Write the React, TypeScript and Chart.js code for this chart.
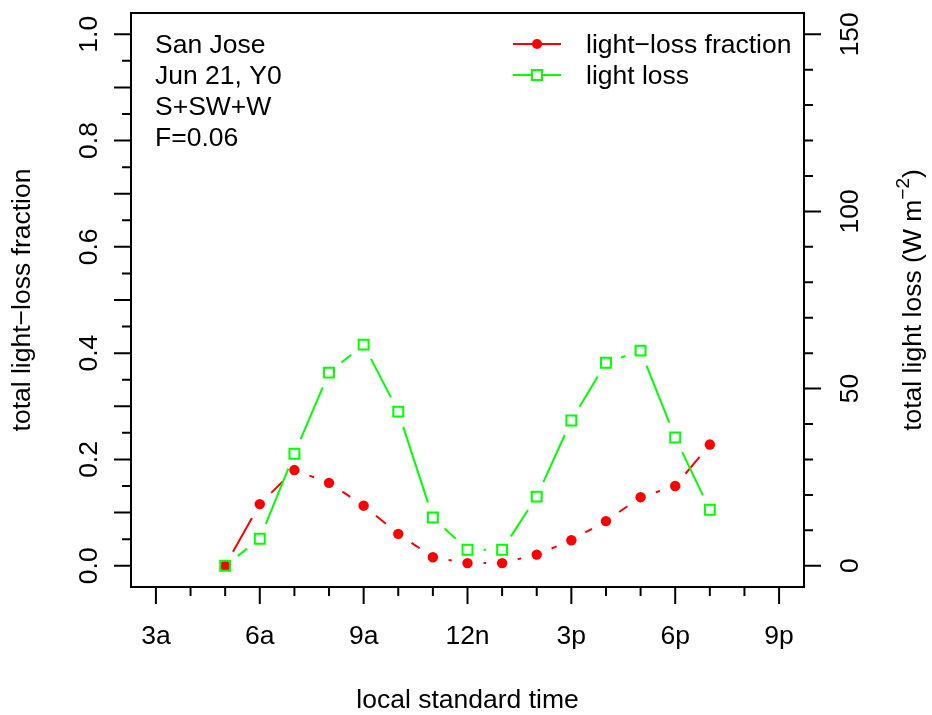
import React, { useEffect, useRef } from 'react';
import { Chart, registerables } from 'chart.js';

Chart.register(...registerables);

// ---- data ----
const hours = [5, 6, 7, 8, 9, 10, 11, 12, 13, 14, 15, 16, 17, 18, 19];
const lossFraction = [0.0, 0.116, 0.18, 0.156, 0.113, 0.06, 0.016, 0.005, 0.005, 0.021, 0.048, 0.084, 0.129, 0.15, 0.228];
const lightLoss = [0.0, 7.6, 31.6, 54.5, 62.4, 43.5, 13.6, 4.5, 4.5, 19.5, 41.0, 57.3, 60.7, 36.2, 15.8];

const xTickValues = [3, 6, 9, 12, 15, 18, 21];
const xTickLabels = ['3a', '6a', '9a', '12n', '3p', '6p', '9p'];
const yLeftTickValues = [0, 0.2, 0.4, 0.6, 0.8, 1.0];
const yLeftTickLabels = ['0.0', '0.2', '0.4', '0.6', '0.8', '1.0'];
const yRightTickValues = [0, 50, 100, 150];
const yRightTickLabels = ['0', '50', '100', '150'];

const annotationLines = ['San Jose', 'Jun 21, Y0', 'S+SW+W', 'F=0.06'];
const seriesLabels = ['light\u2212loss fraction', 'light loss'];
const xTitle = 'local standard time';
const yLeftTitle = 'total light\u2212loss fraction';
const yRightTitle = 'total light loss (W m';
const yRightTitleSup = '\u22122';

const RED = '#ff0000';
const GREEN = '#00ff00';
const FONT = '"Liberation Sans", Arial, Helvetica, sans-serif';
const FS = 26.5;
const GAP = 16;

const gapLinesPlugin = {
  id: 'gapLines',
  beforeDatasetsDraw(chart: any) {
    const ctx = chart.ctx;
    chart.data.datasets.forEach((ds: any, i: number) => {
      const pts = chart.getDatasetMeta(i).data;
      ctx.save();
      ctx.strokeStyle = ds.borderColor;
      ctx.lineWidth = 2;
      ctx.lineCap = 'butt';
      ctx.beginPath();
      for (let k = 0; k < pts.length - 1; k++) {
        const a = pts[k];
        const b = pts[k + 1];
        const dx = b.x - a.x;
        const dy = b.y - a.y;
        const len = Math.hypot(dx, dy);
        if (len <= 2 * GAP) continue;
        const ux = dx / len;
        const uy = dy / len;
        ctx.moveTo(a.x + ux * GAP, a.y + uy * GAP);
        ctx.lineTo(b.x - ux * GAP, b.y - uy * GAP);
      }
      ctx.stroke();
      ctx.restore();
    });
  },
};

const axesPlugin = {
  id: 'rAxes',
  afterDraw(chart: any) {
    const ctx = chart.ctx;
    const { left, right, top, bottom } = chart.chartArea;
    const xs = chart.scales.x;
    const yl = chart.scales.y;
    const yr = chart.scales.y2;
    const MAJ = 17;
    const MIN = 9;
    ctx.save();
    ctx.strokeStyle = '#000';
    ctx.fillStyle = '#000';
    ctx.lineWidth = 2;
    ctx.lineCap = 'butt';
    // box
    ctx.strokeRect(left, top, right - left, bottom - top);

    ctx.beginPath();
    // x ticks: minor every hour, major every 3 h
    for (let h = 3; h <= 21; h++) {
      const px = xs.getPixelForValue(h);
      const len = h % 3 === 0 ? MAJ : MIN;
      ctx.moveTo(px, bottom);
      ctx.lineTo(px, bottom + len);
    }
    // left ticks: major each 0.1, minor each 0.05
    for (let k = 0; k <= 20; k++) {
      const v = k * 0.05;
      const py = yl.getPixelForValue(v);
      const len = k % 2 === 0 ? MAJ : MIN;
      ctx.moveTo(left, py);
      ctx.lineTo(left - len, py);
    }
    // right ticks: major each 50, minor each 10
    for (let k = 0; k <= 15; k++) {
      const v = k * 10;
      const py = yr.getPixelForValue(v);
      const len = k % 5 === 0 ? MAJ : MIN;
      ctx.moveTo(right, py);
      ctx.lineTo(right + len, py);
    }
    ctx.stroke();

    ctx.font = `${FS}px ${FONT}`;
    ctx.textBaseline = 'alphabetic';
    // x tick labels
    ctx.textAlign = 'center';
    xTickValues.forEach((v, i) => {
      ctx.fillText(xTickLabels[i], xs.getPixelForValue(v), 644);
    });
    // left tick labels (rotated)
    yLeftTickValues.forEach((v, i) => {
      ctx.save();
      ctx.translate(97, yl.getPixelForValue(v));
      ctx.rotate(-Math.PI / 2);
      ctx.fillText(yLeftTickLabels[i], 0, 0);
      ctx.restore();
    });
    // right tick labels (rotated)
    yRightTickValues.forEach((v, i) => {
      ctx.save();
      ctx.translate(858, yr.getPixelForValue(v));
      ctx.rotate(-Math.PI / 2);
      ctx.fillText(yRightTickLabels[i], 0, 0);
      ctx.restore();
    });

    // axis titles
    const cx = (left + right) / 2;
    const cy = (top + bottom) / 2;
    ctx.fillText(xTitle, cx, 708);
    ctx.save();
    ctx.translate(30, cy);
    ctx.rotate(-Math.PI / 2);
    ctx.fillText(yLeftTitle, 0, 0);
    ctx.restore();

    // right title with superscript
    ctx.save();
    ctx.translate(921, cy);
    ctx.rotate(-Math.PI / 2);
    ctx.font = `${FS}px ${FONT}`;
    const mainW = ctx.measureText(yRightTitle).width;
    ctx.font = `19px ${FONT}`;
    const supW = ctx.measureText(yRightTitleSup).width;
    ctx.font = `${FS}px ${FONT}`;
    const closeW = ctx.measureText(')').width;
    const total = mainW + supW + closeW;
    let x0 = -total / 2;
    ctx.textAlign = 'left';
    ctx.fillText(yRightTitle, x0, 0);
    x0 += mainW;
    ctx.font = `19px ${FONT}`;
    ctx.fillText(yRightTitleSup, x0, -12);
    x0 += supW;
    ctx.font = `${FS}px ${FONT}`;
    ctx.fillText(')', x0, 0);
    ctx.restore();

    // annotation text
    ctx.textAlign = 'left';
    annotationLines.forEach((t, i) => {
      ctx.fillText(t, 155, 53 + i * 31);
    });

    // legend
    const legendY = [44, 75];
    const colors = [RED, GREEN];
    seriesLabels.forEach((t, i) => {
      const y = legendY[i];
      ctx.strokeStyle = colors[i];
      ctx.lineWidth = 2;
      ctx.beginPath();
      ctx.moveTo(513, y);
      ctx.lineTo(561, y);
      ctx.stroke();
      if (i === 0) {
        ctx.fillStyle = RED;
        ctx.beginPath();
        ctx.arc(537, y, 5, 0, Math.PI * 2);
        ctx.fill();
      } else {
        ctx.fillStyle = '#fff';
        ctx.fillRect(537 - 5, y - 5, 10, 10);
        ctx.strokeRect(537 - 5, y - 5, 10, 10);
      }
      ctx.fillStyle = '#000';
      ctx.fillText(t, 586, y + 9);
    });
    ctx.restore();
  },
};

export default function App() {
  const canvasRef = useRef<HTMLCanvasElement | null>(null);

  useEffect(() => {
    const canvas = canvasRef.current;
    if (!canvas) return;
    const chart = new Chart(canvas, {
      type: 'scatter',
      data: {
        datasets: [
          {
            label: seriesLabels[0],
            data: hours.map((h, i) => ({ x: h, y: lossFraction[i] })),
            yAxisID: 'y',
            borderColor: RED,
            backgroundColor: RED,
            pointStyle: 'circle',
            pointRadius: 5.2,
            pointBorderWidth: 0,
            showLine: false,
            order: 1,
          },
          {
            label: seriesLabels[1],
            data: hours.map((h, i) => ({ x: h, y: lightLoss[i] })),
            yAxisID: 'y2',
            borderColor: GREEN,
            backgroundColor: 'rgba(0,0,0,0)',
            pointStyle: 'rect',
            pointRadius: 7,
            pointBorderWidth: 2,
            showLine: false,
            order: 0,
          },
        ],
      },
      options: {
        responsive: false,
        animation: false,
        devicePixelRatio: 1,
        clip: false as any,
        layout: { padding: { left: 131, right: 128, top: 13, bottom: 128 } },
        plugins: {
          legend: { display: false },
          tooltip: { enabled: false },
        },
        events: [],
        scales: {
          x: { type: 'linear', min: 2.28, max: 21.72, display: false },
          y: { type: 'linear', min: -0.04, max: 1.04, display: false },
          y2: { type: 'linear', min: -6, max: 156, display: false, position: 'right' },
        },
      },
      plugins: [gapLinesPlugin, axesPlugin],
    });
    return () => chart.destroy();
  }, []);

  return (
    <div style={{ position: 'absolute', left: 0, top: 0, width: 932, height: 715, background: '#fff' }}>
      <canvas ref={canvasRef} width={932} height={715} />
    </div>
  );
}
